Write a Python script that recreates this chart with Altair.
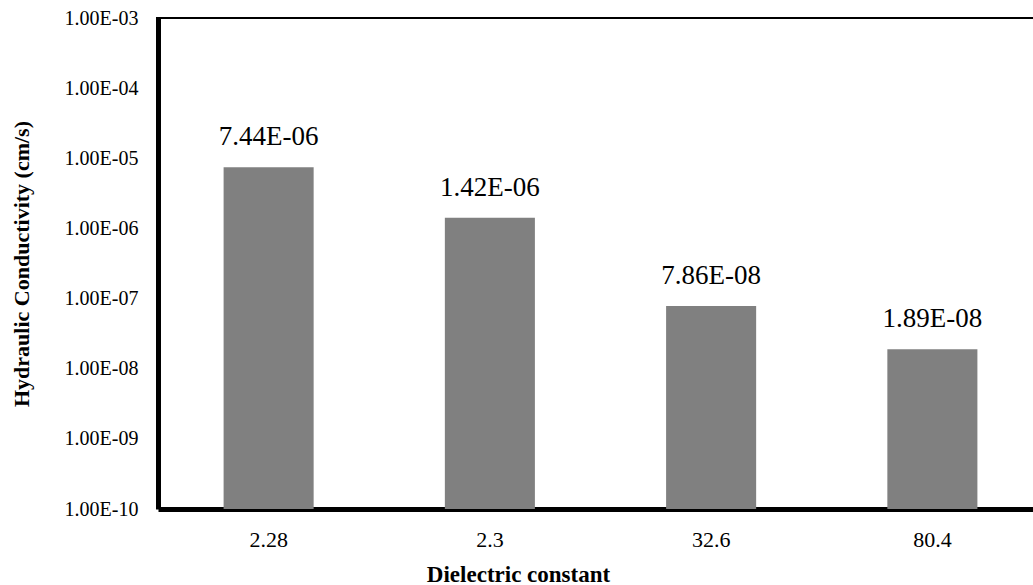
import altair as alt
import pandas as pd

# Hydraulic conductivity measured for permeants of different dielectric constant
dielectric = ["2.28", "2.3", "32.6", "80.4"]
conductivity = [7.44e-06, 1.42e-06, 7.86e-08, 1.89e-08]
y_ticks = [1e-10, 1e-9, 1e-8, 1e-7, 1e-6, 1e-5, 1e-4, 1e-3]
y_floor = 1e-10

df = pd.DataFrame({"eps": dielectric, "k": conductivity})
df["label"] = [f"{v:.2E}" for v in conductivity]

FONT = "Liberation Serif"
PLOT_W = 875
PLOT_H = 491
BAND_RANGE = 885  # the last band runs a little past the right edge

x_enc = alt.X(
    "eps:N",
    sort=dielectric,
    scale=alt.Scale(range=[0, BAND_RANGE], paddingInner=0.593, paddingOuter=0.2965),
    axis=alt.Axis(
        title="Dielectric constant",
        labelAngle=0,
        labelFont=FONT,
        labelFontSize=22,
        labelColor="black",
        labelPadding=20,
        ticks=False,
        domainColor="black",
        domainWidth=5,
        titleFont=FONT,
        titleFontSize=23,
        titleFontWeight="bold",
        titleColor="black",
        titlePadding=13,
        titleX=360,
    ),
)

y_scale = alt.Scale(type="log", domain=[y_floor, 1e-3])

y_enc = alt.Y(
    "k:Q",
    scale=y_scale,
    axis=alt.Axis(
        title="Hydraulic Conductivity (cm/s)",
        values=y_ticks,
        labelExpr="'1.00E-' + (round(-log(datum.value)/LN10) < 10 ? '0' : '') + round(-log(datum.value)/LN10)",
        labelFont=FONT,
        labelFontSize=20,
        labelColor="black",
        labelPadding=20,
        ticks=False,
        grid=False,
        domainColor="black",
        domainWidth=5,
        titleFont=FONT,
        titleFontSize=22,
        titleFontWeight="bold",
        titleColor="black",
        titlePadding=31,
    ),
)

bars = alt.Chart(df).mark_bar(color="#808080").encode(
    x=x_enc, y=y_enc, y2=alt.datum(y_floor)
)

labels = alt.Chart(df).mark_text(
    font=FONT, fontSize=27, color="black", baseline="bottom", dy=-16
).encode(x=alt.X("eps:N", sort=dielectric), y=alt.Y("k:Q"), text="label:N")

top_line = alt.Chart(df).mark_rule(color="black", strokeWidth=2).encode(
    y=alt.value(0), x=alt.value(-2), x2=alt.value(BAND_RANGE + 20)
)

chart = (
    alt.layer(bars, labels, top_line)
    .properties(
        width=PLOT_W,
        height=PLOT_H,
        padding={"left": 158, "top": 18, "right": 0, "bottom": 76},
        autosize=alt.AutoSizeParams(type="none"),
        background="white",
    )
    .configure_view(stroke=None)
)

chart.save("out.html", embed_options={"renderer": "svg", "actions": False})
